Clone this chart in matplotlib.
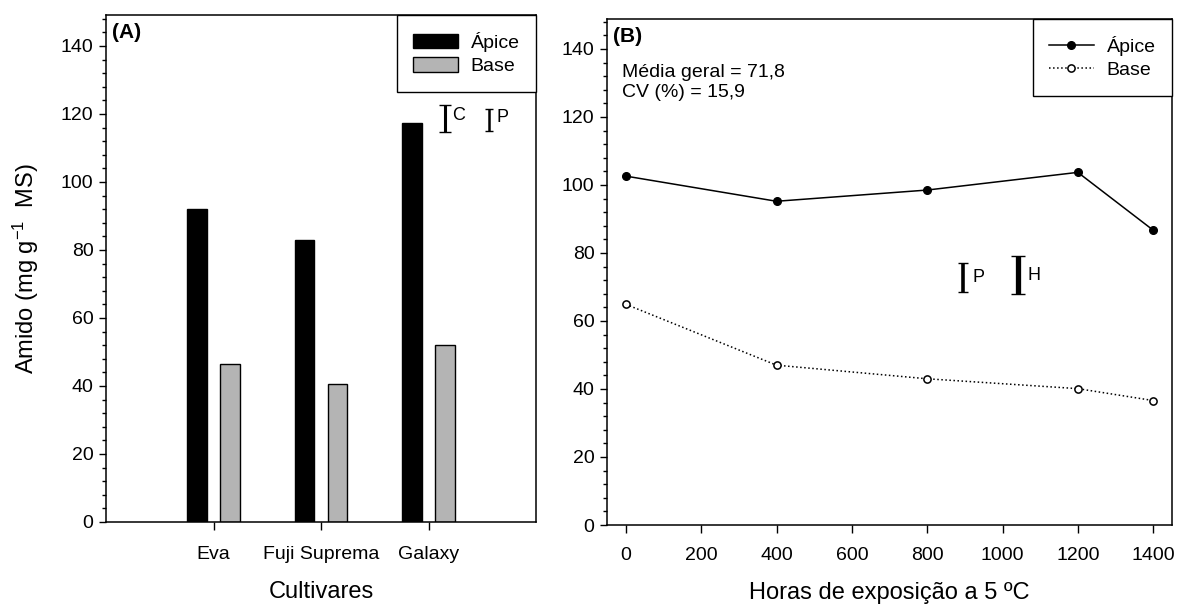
import matplotlib
matplotlib.use("Agg")
import matplotlib.pyplot as plt
import numpy as np

plt.rcParams['font.family'] = ['Liberation Sans', 'DejaVu Sans']
plt.rcParams['mathtext.fontset'] = 'custom'
plt.rcParams['mathtext.rm'] = 'Liberation Sans'
plt.rcParams['mathtext.it'] = 'Liberation Sans:italic'
plt.rcParams['mathtext.bf'] = 'Liberation Sans:bold'

# ---- data -------------------------------------------------------------
cultivares = ["Eva", "Fuji Suprema", "Galaxy"]
amido_apice_cult = [92.0, 83.0, 117.2]
amido_base_cult = [46.6, 40.7, 52.0]

horas = [0, 400, 800, 1200, 1400]
amido_apice_horas = [102.6, 95.2, 98.5, 103.7, 86.7]
amido_base_horas = [64.9, 47.0, 43.0, 40.1, 36.6]

# least significant difference bars (label, x, centre, length)
dms_a_labels = ["C", "P"]
dms_a_x = [3.15, 3.565]
dms_a_centre = [118.6, 118.2]
dms_a_len = [7.8, 6.6]

dms_b_labels = ["P", "H"]
dms_b_x = [894, 1040]
dms_b_centre = [72.8, 73.5]
dms_b_len = [8.5, 11.2]

media_geral = "71,8"
cv = "15,9"

# ---- figure -------------------------------------------------------------
W, H = 1179, 608
fig = plt.figure(figsize=(W / 100, H / 100), dpi=100)

TICK_FS = 14
LABEL_FS = 17


def px_axes(l, t, r, b):
    return fig.add_axes([l / W, 1 - b / H, (r - l) / W, (b - t) / H])


def style_axes(ax):
    for s in ax.spines.values():
        s.set_linewidth(1.1)
    ax.tick_params(axis='both', which='major', direction='out', length=5,
                   width=1.0, labelsize=TICK_FS)
    ax.tick_params(axis='both', which='minor', direction='out', length=3,
                   width=1.0)
    ax.yaxis.set_major_locator(matplotlib.ticker.MultipleLocator(20))
    ax.yaxis.set_minor_locator(matplotlib.ticker.MultipleLocator(4))


# ---------------- (A) bars by cultivar ----------------
axA = px_axes(106, 15, 536, 522)
style_axes(axA)
x = np.arange(1, len(cultivares) + 1)
bw = 0.18
off = 0.152
axA.bar(x - off, amido_apice_cult, bw, color='black', edgecolor='black',
        linewidth=1.0, label='Ápice')
axA.bar(x + off, amido_base_cult, bw, color='#b4b4b4', edgecolor='black',
        linewidth=1.0, label='Base')
axA.set_xlim(0, 4)
axA.set_ylim(0, 149.1)
axA.set_xticks(x)
axA.set_xticklabels(cultivares)
axA.tick_params(axis='x', which='major', length=6, pad=11)
axA.tick_params(axis='y', which='major', pad=4)
axA.set_xlabel("Cultivares", fontsize=LABEL_FS, labelpad=13)
axA.set_ylabel("Amido (mg g$^{-1}$  MS)", fontsize=LABEL_FS, labelpad=14)
axA.text(0.013, 0.985, "(A)", transform=axA.transAxes, fontsize=15,
         fontweight='bold', va='top', ha='left')

caps_a = [4.3, 3.0]
lw_a = [2.2, 1.8]
for lab, xx, c, ln, cs, lw in zip(dms_a_labels, dms_a_x, dms_a_centre,
                                   dms_a_len, caps_a, lw_a):
    axA.errorbar([xx], [c], yerr=[ln / 2], fmt='none', ecolor='black',
                 elinewidth=lw, capsize=cs, capthick=1.0)
    axA.text(xx + 0.07, c + 0.8, lab, fontsize=13, ha='left', va='center')

legA = axA.legend(loc='upper right', borderaxespad=0, fancybox=False,
                  edgecolor='black', fontsize=14, handlelength=2.3,
                  handleheight=0.75, handletextpad=0.65, borderpad=0.85,
                  labelspacing=0.3, framealpha=1)
legA.get_frame().set_linewidth(1.0)

# ---------------- (B) lines over exposure hours ----------------
axB = px_axes(607, 19, 1172, 525)
style_axes(axB)
axB.plot(horas, amido_apice_horas, '-', color='black', linewidth=1.1,
         marker='o', markersize=5.5, markerfacecolor='black',
         markeredgecolor='black', label='Ápice')
axB.plot(horas, amido_base_horas, ':', color='black', linewidth=1.1,
         marker='o', markersize=5.2, markerfacecolor='white',
         markeredgecolor='black', markeredgewidth=1.1, label='Base')
axB.set_xlim(-50, 1450)
axB.set_ylim(0, 148.8)
axB.xaxis.set_major_locator(matplotlib.ticker.MultipleLocator(200))
axB.tick_params(axis='x', which='major', length=6, pad=10)
axB.tick_params(axis='y', which='major', pad=4)
axB.set_xlabel("Horas de exposição a 5 ºC", fontsize=LABEL_FS, labelpad=13)
axB.text(0.011, 0.985, "(B)", transform=axB.transAxes, fontsize=15,
         fontweight='bold', va='top', ha='left')
axB.text(0.027, 0.912, f"Média geral = {media_geral}\nCV (%) = {cv}",
         transform=axB.transAxes, fontsize=14, va='top', ha='left',
         linespacing=1.3)

caps_b = [3.4, 5.2]
lw_b = [2.6, 3.8]
for lab, xx, c, ln, cs, lw in zip(dms_b_labels, dms_b_x, dms_b_centre,
                                   dms_b_len, caps_b, lw_b):
    axB.errorbar([xx], [c], yerr=[ln / 2], fmt='none', ecolor='black',
                 elinewidth=lw, capsize=cs, capthick=1.0)
    axB.text(xx + 26, c, lab, fontsize=13, ha='left', va='center')

legB = axB.legend(loc='upper right', borderaxespad=0, fancybox=False,
                  edgecolor='black', fontsize=14, handlelength=2.3,
                  handletextpad=0.65, borderpad=0.85, labelspacing=0.3,
                  framealpha=1)
legB.get_frame().set_linewidth(1.0)

fig.savefig("out.png", dpi=100)
